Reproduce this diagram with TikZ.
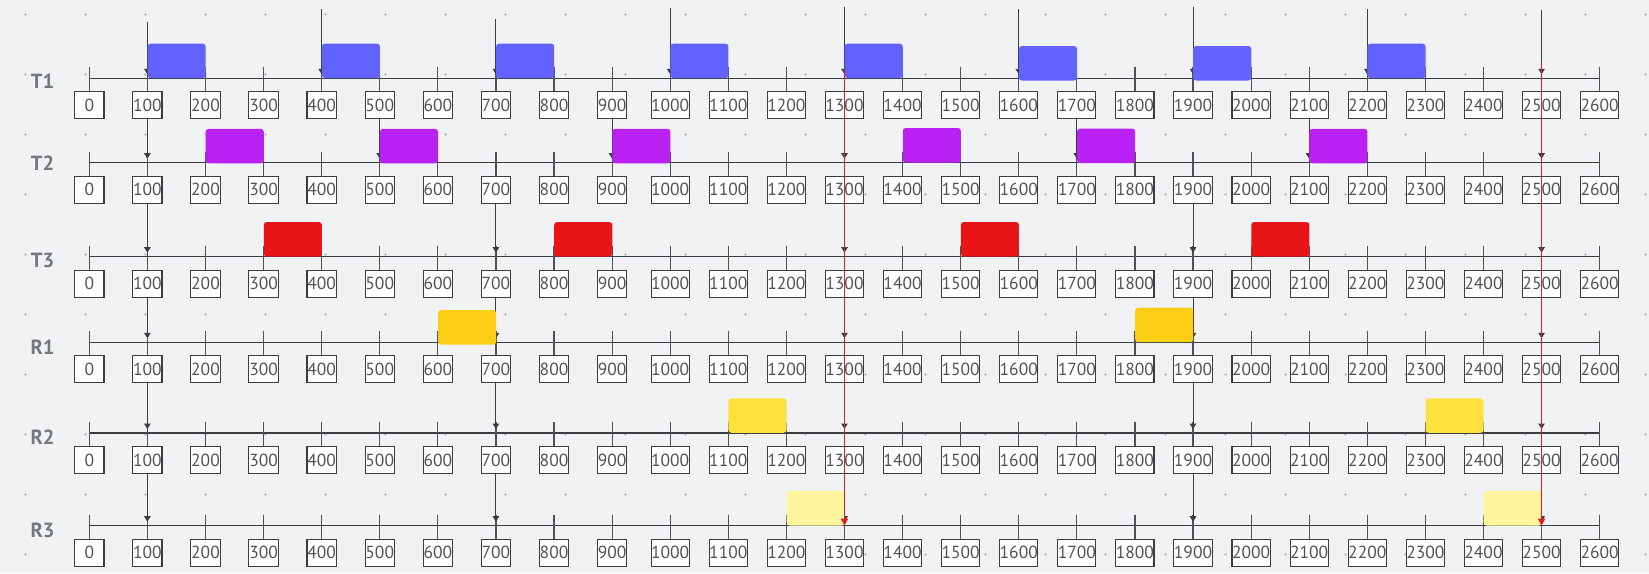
\documentclass[tikz,border=0pt]{standalone}
\usepackage{fontspec}
\setmainfont{PT Sans}
\usetikzlibrary{arrows.meta}

\definecolor{canvas}{HTML}{F1F2F4}
\definecolor{dotgray}{HTML}{BCC0C7}
\definecolor{inkgray}{HTML}{3A3D42}
\definecolor{tickgray}{HTML}{4E5258}
\definecolor{numgray}{HTML}{4F5358}
\definecolor{labgray}{HTML}{73787F}
\definecolor{deadred}{HTML}{D92020}
\definecolor{jobTa}{HTML}{6262FF}
\definecolor{jobTb}{HTML}{BA22F4}
\definecolor{jobTc}{HTML}{E81416}
\definecolor{jobRa}{HTML}{FBCE15}
\definecolor{jobRb}{HTML}{FFE13E}
\definecolor{jobRc}{HTML}{FFF59D}

\tikzset{
  gridmark/.style={dotgray, line width=0.7pt},
  rowlabel/.style={font=\fontsize{20.5}{20.5}\selectfont\bfseries, text=labgray},
  axisline/.style={inkgray, line width=1.2pt},
  tickline/.style={tickgray, line width=1.2pt},
  timebox/.style={draw=inkgray, fill=white, line width=1.1pt, minimum width=29.3pt,
    minimum height=27pt, inner sep=0pt, anchor=north,
    font=\fontsize{17.5}{17.5}\selectfont, text=numgray},
  job/.style={anchor=south west, minimum width=58.09pt, minimum height=34.5pt,
    inner sep=0pt, rounded corners=3pt},
  release/.style={inkgray, line width=1pt, shorten >=4pt,
    -{Triangle[width=6.5pt,length=5.5pt]}},
  deadline/.style={deadred, line width=1.4pt, -{Triangle[width=7pt,length=7pt]}}
}

\begin{document}
\begin{tikzpicture}[x=1pt,y=-1pt]
\fill[canvas] (0,0) rectangle (1649,573);
\useasboundingbox (0,0) rectangle (1649,573);
% dot grid
\foreach \gx in {0,...,27}
  \foreach \gy in {0,...,9}
    \draw[gridmark] ({25+60*\gx-1.5},{14.3+60*\gy}) -- ++(3,0)
      ({25+60*\gx},{14.3+60*\gy-1.5}) -- ++(0,3);

% time lines
\foreach \r/\y/\ly in {T1/78.3/81.2,T2/162.7/163.5,T3/256.7/260.5,R1/342.3/347,R2/433/437,R3/525.7/530}{
  \node[rowlabel] (lab-\r) at (42.5,\ly) {\r};
  \draw[axisline] (89.3,\y) -- (1599.7,\y);
  \foreach \i in {0,...,26}{
    \pgfmathsetmacro\x{89.3+58.09*\i}
    \pgfmathtruncatemacro\v{100*\i}
    \coordinate (t-\r-\i) at (\x,\y);
    \draw[tickline] (\x,{\y-11}) -- (\x,{\y+13});
    \node[timebox] (b-\r-\i) at (\x,{\y+13}) {\v};
  }
}

% releases
\foreach \i/\top in {1/22,4/9,7/19,10/8.4,13/7,16/9,19/6.7,22/9,25/10}{
  \coordinate (src-\i) at ({89.3+58.09*\i},\top);
  \draw[release] (src-\i) -- (t-T1-\i);
}
\foreach \p/\q/\list in {T1/T2/{1,5,9,13,17,21,25},T2/T3/{1,7,13,19,25},
    T3/R1/{1,7,13,19,25},R1/R2/{1,7,13,19,25},R2/R3/{1,7,13,19,25}}
  \foreach \i in \list
    \draw[release] (b-\p-\i) -- (t-\q-\i);

% jobs
\foreach \r/\c/\list in {T1/jobTa/{1/0,4/0,7/0,10/0,13/0,16/2.4,19/2.4,22/0},
    T2/jobTb/{2/0.8,5/0.8,9/0.8,14/0,17/0.6,21/0.8},T3/jobTc/{3/0,8/0,15/0,20/0},
    R1/jobRa/{6/2.4,18/0},R2/jobRb/{11/0,23/0},R3/jobRc/{12/0,24/0}}
  \foreach \s/\d in \list
    \node[job, fill=\c] (j-\r-\s) at ([yshift={-\d*1pt}]t-\r-\s) {};

% hyperperiod cuts
\coordinate (cut-13) at ({89.3+58.09*13},70);
\coordinate (cut-25) at ({89.3+58.09*25},62);
\draw[deadline] (cut-13) -- (t-R3-13);
\draw[deadline] (cut-25) -- (t-R3-25);
\end{tikzpicture}
\end{document}
